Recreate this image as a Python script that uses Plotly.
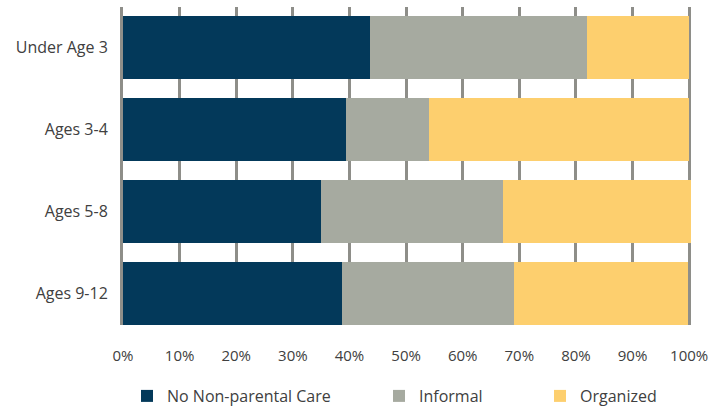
import plotly.graph_objects as go

categories = ["Under Age 3", "Ages 3-4", "Ages 5-8", "Ages 9-12"]
series_names = ["No Non-parental Care", "Informal", "Organized"]
no_care = [43.7, 39.3, 34.9, 38.6]
informal = [38.2, 14.7, 32.3, 30.4]
organized = [18.1, 46.0, 33.1, 30.8]
x_ticks = [0, 10, 20, 30, 40, 50, 60, 70, 80, 90, 100]
x_tick_labels = [f"{v}%" for v in x_ticks]

colors = ["#03395a", "#a6aaa0", "#fdcf6e"]
legend_ids = ["legend", "legend2", "legend3"]
legend_x = [127, 379, 540]  # pixel left edges in the page
ypos = list(range(len(categories)))

FONT = "Open Sans"
TXT = "#404040"

fig = go.Figure()
for name, vals, col, lid in zip(series_names, [no_care, informal, organized], colors, legend_ids):
    fig.add_trace(go.Bar(
        y=ypos, x=vals, name=name, orientation="h",
        marker=dict(color=col, line=dict(width=0)),
        width=0.77, legend=lid,
    ))

legend_common = dict(
    orientation="h", xref="container", yref="container",
    yanchor="middle", y=1 - 396 / 406, xanchor="left",
    font=dict(family=FONT, size=16, color=TXT),
    itemwidth=30, bgcolor="rgba(0,0,0,0)", borderwidth=0,
)

layout_legends = {}
for lid, lx in zip(legend_ids, legend_x):
    layout_legends[lid] = dict(legend_common, x=lx / 712)

fig.update_layout(
    barmode="stack",
    width=712, height=406,
    margin=dict(l=123, r=20, t=7, b=81, autoexpand=False),
    plot_bgcolor="white", paper_bgcolor="white",
    font=dict(family=FONT, size=15, color=TXT),
    showlegend=True,
    xaxis=dict(
        range=[0, 100.5], tickvals=x_ticks, ticktext=x_tick_labels,
        tickfont=dict(size=15),
        showgrid=True, gridcolor="#8e8e89", gridwidth=3,
        zeroline=False, showline=False, ticks="", ticklabelstandoff=20,
        automargin=False,
    ),
    yaxis=dict(
        range=[3.385, -0.495], tickvals=ypos, ticktext=categories,
        tickfont=dict(size=16),
        showgrid=False, zeroline=False, ticks="", ticklabelstandoff=9,
        showline=True, linecolor="#8e8e89", linewidth=3,
        automargin=False,
    ),
    **layout_legends,
)

fig.write_html(
    "out.html",
    config={"displayModeBar": False},
    post_script="document.body.style.margin='0';",
)
